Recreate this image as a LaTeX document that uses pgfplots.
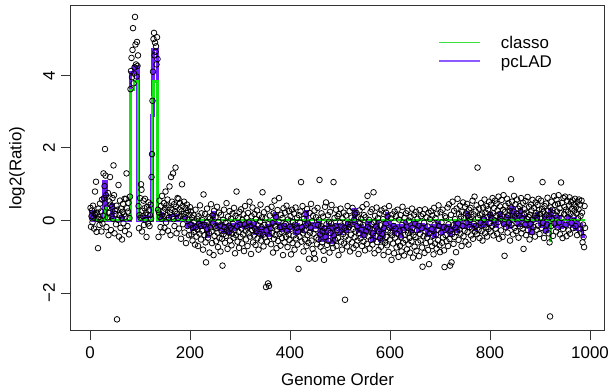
\documentclass[12pt,border=0pt]{standalone}
\usepackage{fontspec}
\setmainfont{Liberation Sans}
\usepackage{pgfplots}
\usepackage{pgfplotstable}
\pgfplotsset{compat=1.18}
\definecolor{classogreen}{RGB}{20,230,20}
\definecolor{pcladpurple}{RGB}{110,30,250}
\definecolor{legendgreen}{RGB}{60,225,60}
\definecolor{legendpurple}{RGB}{140,90,255}

% log2 ratios, one per clone, in genome order (1..990)
\pgfplotstableread[row sep=\\, header=false]{
0.35\\ -0.17\\ 0.12\\ 0.28\\ -0.05\\ 0.41\\ 0.08\\ -0.22\\ 0.19\\ 0.80\\
0.15\\ 1.07\\ -0.31\\ 0.22\\ 0.05\\ -0.76\\ 0.33\\ 0.10\\ -0.12\\ 0.47\\
0.02\\ 0.25\\ -0.30\\ 0.58\\ -0.08\\ 0.14\\ 1.30\\ 0.62\\ 0.95\\ 1.97\\
1.24\\ 0.70\\ -0.18\\ 0.36\\ 0.09\\ 0.76\\ -0.40\\ 0.21\\ 0.53\\ 1.20\\
0.44\\ -0.26\\ 0.12\\ 0.38\\ 0.62\\ 0.05\\ 1.52\\ 0.70\\ -0.35\\ 0.27\\
0.18\\ -0.10\\ 0.41\\ -2.72\\ 0.30\\ 0.02\\ 0.98\\ -0.44\\ 0.15\\ 0.55\\
-0.20\\ 0.33\\ 0.08\\ -0.52\\ 0.24\\ 0.46\\ -0.07\\ 0.17\\ 0.60\\ -0.29\\
0.11\\ 0.60\\ 1.30\\ 0.34\\ -0.15\\ 0.25\\ 0.49\\ -0.38\\ 0.07\\ 0.66\\
3.62\\ 4.12\\ 4.48\\ 3.95\\ 4.70\\ 5.30\\ 3.78\\ 4.05\\ 4.22\\ 5.61\\
4.85\\ 4.30\\ 3.97\\ 4.92\\ 4.26\\ 4.55\\
0.40\\ -0.21\\ 0.15\\ 0.62\\ 0.08\\ 1.00\\ 0.85\\ -0.30\\ 0.27\\ 0.12\\
0.55\\ -0.12\\ 0.34\\ 0.60\\ 0.02\\ 0.21\\ -0.45\\ 0.38\\ 0.16\\ -0.08\\
0.50\\ 0.29\\ -0.15\\ 0.15\\ 0.44\\ 0.05\\ 1.20\\
1.83\\ 3.30\\ 4.10\\ 5.00\\ 5.17\\ 4.55\\ 4.90\\ 4.65\\ 4.80\\ 4.30\\ 5.05\\ 4.45\\
0.30\\ -0.45\\ 0.22\\ 0.55\\ 0.10\\ -0.18\\ 0.40\\ 0.05\\ 0.68\\ -0.32\\
0.25\\ 0.12\\ 0.48\\ -0.20\\ 0.33\\ 0.80\\ -0.05\\ 0.42\\ 0.15\\ 0.58\\
-0.28\\ 0.36\\ 0.08\\ 0.94\\ 0.22\\ -0.40\\ 1.20\\ 0.30\\ 0.52\\ 0.11\\
1.30\\ 0.04\\ 0.45\\ -0.15\\ 0.26\\ 1.46\\ 0.38\\ -0.35\\ 0.19\\ 0.62\\
0.07\\ 0.60\\ -0.22\\ 0.31\\ 0.48\\ 0.13\\ -0.50\\ 0.25\\ 1.00\\ 0.40\\
-0.10\\ 0.18\\ 0.52\\ -0.33\\ 0.09\\ 0.35\\ -0.62\\ 0.21\\ 0.44\\ -0.15\\ 0.28\\ 0.03\\ -0.40\\ 0.16\\ 0.37\\
-0.12\\ 0.25\\ -0.38\\ 0.08\\ -0.55\\ -0.20\\ 0.15\\ -0.31\\ -0.02\\ -0.66\\
0.30\\ -0.18\\ -0.44\\ 0.05\\ -0.25\\ -0.70\\ 0.12\\ -0.09\\ -0.36\\ 0.42\\
-0.15\\ -0.52\\ 0.20\\ -0.28\\ 0.01\\ -0.80\\ 0.72\\ -0.11\\ -0.40\\ 0.18\\
-0.60\\ -1.15\\ -0.05\\ 0.33\\ -0.24\\ -0.47\\ 0.10\\ -0.35\\ -0.88\\ 0.06\\
-0.19\\ 0.45\\ -0.30\\ -0.62\\ 0.14\\ -0.08\\ -0.95\\ 0.27\\ -0.42\\ -0.16\\
0.09\\ -0.57\\ -0.21\\ 0.38\\ -0.33\\ -0.73\\ -0.04\\ 0.22\\ -0.48\\ -0.13\\
-0.85\\ 0.16\\ -0.29\\ -0.50\\ -1.24\\ 0.02\\ -0.37\\ 0.30\\ -0.18\\ -0.61\\
-0.06\\ -0.42\\ 0.48\\ -0.25\\ -0.78\\ 0.11\\ -0.33\\ -0.14\\ 0.26\\ -0.55\\
-0.20\\ 0.05\\ -0.68\\ -0.36\\ 0.19\\ -0.09\\ -0.47\\ 0.35\\ -0.27\\ -0.90\\
0.13\\ -0.40\\ 0.80\\ -0.16\\ -0.58\\ 0.07\\ -0.31\\ -0.75\\ 0.24\\ -0.12\\
-0.45\\ 0.31\\ -0.22\\ -0.63\\ 0.02\\ -0.38\\ 0.17\\ -0.84\\ -0.10\\ 0.40\\
-0.28\\ -0.52\\ 0.08\\ -0.19\\ -0.70\\ 0.21\\ -0.35\\ -0.05\\ 0.52\\ -0.44\\
-0.15\\ -0.92\\ 0.12\\ -0.26\\ 0.36\\ -0.60\\ -0.08\\ -0.41\\ 0.18\\ -0.22\\
-0.67\\ 0.04\\ -0.30\\ 0.28\\ -0.49\\ -0.13\\ -0.80\\ 0.15\\ -0.36\\ -0.02\\
0.44\\ -0.55\\ -0.18\\ 0.09\\ 0.78\\ -0.39\\ -0.71\\ 0.23\\ -0.12\\ -0.46\\
0.06\\ -1.83\\ -0.27\\ -0.58\\ 0.32\\ -1.73\\ -0.10\\ -1.80\\ -0.43\\ 0.14\\
-0.21\\ -0.65\\ 0.38\\ -0.34\\ -0.07\\ -0.88\\ 0.20\\ -0.50\\ 0.55\\ -0.16\\
-0.40\\ 0.10\\ -0.76\\ -0.24\\ 0.29\\ -0.56\\ -0.03\\ 0.62\\ -0.37\\ -0.19\\
-0.69\\ 0.16\\ -0.31\\ -0.48\\ 0.07\\ -0.95\\ 0.34\\ -0.14\\ -0.60\\ 0.22\\
-0.09\\ -0.45\\ 0.41\\ -0.29\\ -0.73\\ 0.03\\ -0.38\\ 0.26\\ -0.53\\ -0.17\\
0.12\\ -0.93\\ -0.22\\ 0.30\\ -0.62\\ -0.04\\ -0.41\\ 0.19\\ -0.80\\ -0.11\\
0.36\\ -0.49\\ -0.20\\ 0.08\\ -0.66\\ -0.30\\ -1.33\\ 0.15\\ -0.44\\ -0.06\\
0.25\\ 1.06\\ -0.58\\ -0.18\\ 0.40\\ -0.35\\ -0.85\\ 0.05\\ -0.27\\ -0.52\\
0.17\\ -0.13\\ -0.70\\ 0.32\\ -0.40\\ -0.08\\ -0.61\\ -1.05\\ 0.21\\ -0.33\\
-0.19\\ 0.46\\ -0.55\\ -0.02\\ -0.78\\ 0.13\\ -0.36\\ -0.90\\ 0.28\\ -1.05\\
-0.24\\ 0.09\\ -0.47\\ -0.65\\ 0.35\\ -0.12\\ -0.52\\ 0.02\\ 1.12\\ -0.38\\
-0.72\\ -0.15\\ 0.20\\ -0.60\\ -0.30\\ 0.11\\ -0.83\\ -1.08\\ -0.21\\ 0.38\\
-0.45\\ 0.50\\ -0.10\\ -0.67\\ -0.28\\ 0.15\\ -0.56\\ -0.03\\ -0.88\\ 0.24\\
-0.34\\ -0.08\\ 0.43\\ -0.62\\ -0.19\\ -0.75\\ 1.06\\ -0.41\\ 0.07\\ -0.53\\
-0.16\\ 0.30\\ -0.70\\ -0.26\\ 0.12\\ -0.48\\ -0.95\\ 0.18\\ -0.32\\ -0.05\\
0.33\\ -0.58\\ -0.14\\ -0.80\\ 0.06\\ -0.37\\ 0.22\\ -0.63\\ -0.20\\ -2.18\\
-0.44\\ 0.14\\ -0.27\\ -0.71\\ 0.40\\ -0.09\\ -0.52\\ -0.18\\ 0.26\\ -0.85\\
-0.11\\ -0.39\\ 0.08\\ -0.60\\ 0.35\\ -0.23\\ -0.76\\ 0.02\\ -0.46\\ 0.17\\
-0.30\\ -0.68\\ 0.21\\ -0.15\\ -0.55\\ 0.10\\ -0.92\\ -0.34\\ 0.28\\ -0.07\\
-0.49\\ 0.05\\ -0.25\\ -0.70\\ 0.37\\ -0.12\\ -0.58\\ 0.15\\ -0.40\\ -0.82\\
0.09\\ -0.29\\ 0.45\\ -0.64\\ 0.68\\ -0.18\\ -0.44\\ 0.02\\ -0.77\\ -0.21\\
0.24\\ -0.53\\ -0.10\\ 0.31\\ -0.66\\ -0.35\\ 0.78\\ -0.05\\ -0.90\\ 0.13\\
-0.42\\ -0.16\\ 0.36\\ -0.59\\ -0.24\\ 0.07\\ -0.81\\ -0.30\\ 0.19\\ -0.48\\
-0.13\\ -0.72\\ 0.28\\ -0.37\\ -0.55\\ 0.04\\ -0.95\\ -0.20\\ 0.33\\ -0.61\\
-0.08\\ 0.22\\ -0.45\\ -0.68\\ 0.11\\ -0.27\\ -0.86\\ 0.40\\ -0.19\\ -0.52\\
-0.33\\ 0.06\\ -1.08\\ -0.41\\ 0.17\\ -0.63\\ -0.15\\ -0.90\\ 0.25\\ -0.47\\
-0.22\\ 0.12\\ -0.74\\ -0.36\\ 0.30\\ -0.58\\ -1.00\\ 0.03\\ -0.28\\ -0.69\\
0.15\\ -0.44\\ -0.85\\ -0.12\\ 0.38\\ -0.61\\ -0.25\\ -0.96\\ 0.08\\ -0.39\\
-0.53\\ 0.20\\ -0.17\\ -0.79\\ 0.27\\ -0.34\\ -0.66\\ 0.00\\ -0.48\\ -0.88\\
0.10\\ -0.31\\ -0.57\\ 0.33\\ -0.20\\ -1.02\\ -0.40\\ 0.16\\ -0.72\\ -0.09\\
-0.45\\ 0.24\\ -0.83\\ -0.27\\ 0.05\\ -0.60\\ -0.14\\ -0.98\\ 0.29\\ -0.37\\
-0.55\\ 0.12\\ -0.21\\ -0.74\\ -1.27\\ 0.18\\ -0.43\\ -0.06\\ -0.89\\ 0.31\\
-0.30\\ -0.62\\ 0.09\\ -0.47\\ -0.16\\ -0.81\\ 0.22\\ -1.20\\ -0.35\\ 0.04\\
-0.58\\ 0.26\\ -0.24\\ -0.70\\ 0.14\\ -0.42\\ -0.93\\ 0.35\\ -0.11\\ -0.63\\
0.07\\ -0.38\\ -0.77\\ 0.19\\ -0.26\\ -0.54\\ 0.42\\ -0.15\\ -0.68\\ -0.87\\
0.23\\ -0.33\\ -0.05\\ -0.61\\ 0.30\\ -0.46\\ -0.18\\ -0.82\\ -1.28\\ 0.12\\
-0.40\\ 0.08\\ -0.57\\ -0.22\\ 0.36\\ -0.70\\ -0.10\\ 0.45\\ -0.51\\ -1.24\\
-0.28\\ 0.16\\ -1.15\\ -0.37\\ 0.52\\ -0.13\\ -0.64\\ 0.27\\ -0.45\\ 0.04\\
-0.19\\ -0.87\\ 0.33\\ -0.31\\ 0.60\\ -0.08\\ -0.53\\ 0.18\\ -0.25\\ 0.41\\
-0.36\\ 0.11\\ -0.70\\ 0.24\\ -0.15\\ 0.50\\ -0.43\\ 0.06\\ -0.28\\ 0.38\\
-0.58\\ 0.20\\ -0.05\\ 0.46\\ -0.32\\ 0.13\\ -0.66\\ 0.30\\ -0.18\\ 0.02\\
0.35\\ -0.41\\ 0.10\\ -0.22\\ 0.55\\ -0.50\\ 0.17\\ -0.09\\ 0.66\\ -0.30\\
0.25\\ -0.14\\ 0.42\\ -0.37\\ 1.46\\ 0.07\\ -0.26\\ 0.33\\ -0.48\\ 0.15\\
-0.06\\ 0.48\\ -0.29\\ 0.19\\ -0.55\\ 0.36\\ -0.12\\ 0.04\\ 0.58\\ -0.35\\
0.22\\ -0.18\\ 0.40\\ -0.44\\ 0.10\\ 0.31\\ -0.23\\ 0.52\\ -0.07\\ 0.16\\
-0.30\\ 0.44\\ 0.08\\ -0.15\\ 0.62\\ 0.20\\ -0.41\\ 0.35\\ 0.01\\ 0.55\\
-0.22\\ 0.13\\ 0.47\\ -0.36\\ 0.28\\ -0.04\\ 0.66\\ -0.50\\ 0.18\\ 0.39\\
0.05\\ -0.27\\ 0.57\\ 0.12\\ -0.45\\ 0.30\\ 0.70\\ -0.10\\ -0.97\\ 0.24\\
0.41\\ -0.18\\ 0.09\\ 0.60\\ -0.33\\ 0.15\\ 0.48\\ -0.06\\ 0.27\\ -0.55\\
0.36\\ 1.14\\ -0.12\\ 0.52\\ 0.03\\ -0.38\\ 0.25\\ 0.68\\ -0.20\\ 0.11\\
0.45\\ -0.29\\ 0.19\\ 0.58\\ -0.08\\ 0.33\\ -0.47\\ 0.14\\ 0.40\\ -0.16\\
0.26\\ 0.62\\ -0.35\\ 0.07\\ -0.22\\ 0.49\\ -0.78\\ 0.17\\ 0.31\\ -0.11\\
0.54\\ -0.40\\ 0.22\\ 0.04\\ 0.65\\ -0.26\\ 0.10\\ 0.38\\ -0.52\\ 0.16\\
-0.09\\ 0.44\\ 0.28\\ -0.32\\ 0.57\\ 0.02\\ -0.18\\ 0.35\\ 0.13\\ -0.44\\
0.50\\ 0.21\\ -0.25\\ 0.06\\ 0.43\\ -0.14\\ 0.60\\ 0.29\\ -0.37\\ 0.18\\
0.08\\ 0.55\\ -0.20\\ 0.32\\ 1.06\\ -0.06\\ 0.24\\ -0.48\\ 0.40\\ 0.11\\
-0.28\\ 0.47\\ 0.16\\ -0.11\\ 0.63\\ 0.27\\ -0.35\\ 0.09\\ -0.60\\ -2.64\\
0.36\\ -0.15\\ 0.52\\ 0.05\\ 0.30\\ -0.42\\ 0.20\\ 0.67\\ -0.08\\ 0.43\\
0.14\\ -0.30\\ 0.58\\ 0.25\\ -0.19\\ 0.46\\ 0.70\\ -0.05\\ 0.34\\ -0.38\\
0.21\\ 1.05\\ 0.07\\ 0.49\\ -0.48\\ -0.23\\ 0.62\\ 0.17\\ 0.38\\ 0.66\\
-0.12\\ 0.30\\ -0.43\\ 0.55\\ 0.09\\ 0.24\\ -0.27\\ 0.41\\ 0.64\\ -0.36\\
0.18\\ 0.50\\ -0.06\\ 0.33\\ 0.56\\ -0.21\\ 0.12\\ 0.45\\ 0.28\\ 0.60\\
-0.15\\ 0.37\\ 0.20\\ -0.40\\ 0.52\\ 0.06\\ 0.31\\ 0.58\\ -0.24\\ 0.44\\
0.13\\ -0.33\\ 0.55\\ 0.22\\ -0.60\\ -0.11\\ -0.45\\ -0.73\\ 0.40\\ -0.20\\
}\ratios

\begin{document}
\begin{tikzpicture}
\begin{axis}[
  scale only axis,
  width=378.5pt, height=230.5pt,
  xmin=-38.6, xmax=1028.6,
  ymin=-3.03, ymax=5.92,
  xtick={0,200,400,600,800,1000},
  ytick={-2,0,2,4},
  yticklabels={−2,0,2,4},
  tick pos=left,
  tick align=outside,
  major tick length=7pt,
  every tick/.style={black!80, line width=0.7pt},
  axis line style={black!80, line width=0.7pt},
  /pgf/number format/assume math mode=true,
  /pgf/number format/1000 sep={},
  yticklabel style={rotate=90, anchor=south},
  xlabel={Genome Order},
  ylabel={log2(Ratio)},
  xlabel style={at={(axis description cs:0.5,-0.1488)}, anchor=center},
  ylabel style={at={(axis description cs:-0.1007,0.5)}, anchor=center},
  legend style={draw=none, fill=none, inner sep=0pt,
    at={(axis description cs:0.689,0.908)}, anchor=north west,
    row sep=4.5pt, column sep=14.2pt,
    nodes={inner sep=0pt, text height=9pt, text depth=0pt, anchor=west}},
]
\addplot[only marks, mark=o, mark size=2pt, mark options={line width=0.55pt, black}, forget plot]
  table[x expr=\coordindex+1, y index=0] {\ratios};

\addplot[const plot, pcladpurple, line width=2.2pt, forget plot] coordinates {
(1,0)(2,0.25)(9,0)(28,1.07)(32,0)(43,0.43)(47,0)(62,0.08)(66,0)(81,4.07)(88,4.24)(96,0)(108,0.1)(114,0)
(124,2.9)(126,4.7)(135,0)(140,0.2)(145,0)(160,0.15)(174,0)(186,0.08)(190,0)(195,-0.15)(198,-0.05)
(201,-0.08)(204,-0.25)(208,-0.1)(214,-0.18)(218,-0.05)(222,-0.2)(226,-0.08)(233,-0.45)(237,-0.15)
(241,-0.05)(246,0.23)(249,-0.08)(253,-0.2)(256,-0.1)(260,-0.25)(263,-0.1)(266,-0.3)(270,-0.15)
(276,-0.35)(280,-0.12)(284,-0.25)(288,-0.1)(292,-0.2)(296,-0.05)(300,-0.15)(305,-0.08)(308,-0.2)
(312,-0.1)(316,-0.03)(320,-0.15)(324,-0.08)(330,-0.35)(334,-0.2)(338,-0.3)(341,-0.45)(345,-0.2)
(350,-0.35)(353,-0.15)(356,-0.4)(360,-0.15)(364,-0.05)(370,0.2)(373,-0.08)(378,-0.2)(382,-0.28)
(386,-0.12)(390,-0.22)(394,-0.3)(399,-0.12)(404,-0.22)(407,-0.1)(410,-0.35)(414,-0.1)(417,-0.2)
(420,-0.3)(426,-0.15)(431,0.25)(434,-0.05)(437,-0.15)(440,-0.25)(444,-0.08)(448,-0.2)(452,-0.12)
(456,-0.05)(460,-0.55)(464,-0.2)(466,-0.35)(470,-0.55)(475,-0.1)(480,-0.2)(484,-0.6)(488,-0.25)
(491,-0.12)(495,-0.2)(500,-0.35)(503,-0.15)(506,-0.25)(510,-0.3)(514,-0.05)(517,-0.15)(520,-0.08)
(527,0.3)(530,-0.05)(533,-0.2)(536,-0.3)(540,-0.15)(544,-0.45)(548,-0.2)(551,-0.3)(554,-0.05)
(558,-0.2)(561,-0.35)(564,-0.55)(568,-0.3)(571,-0.12)(574,-0.05)(577,-0.25)(580,-0.55)(584,-0.45)
(588,-0.15)(590,-0.05)(593,0.2)(597,-0.05)(600,-0.15)(602,-0.25)(605,-0.1)(608,-0.35)(611,-0.2)
(614,-0.15)(617,-0.3)(620,-0.45)(623,-0.15)(626,-0.25)(630,-0.05)(633,-0.2)(635,-0.12)(640,-0.3)
(643,-0.12)(646,-0.05)(650,-0.15)(655,-0.3)(658,-0.12)(660,-0.2)(664,-0.1)(666,-0.25)(670,-0.15)
(673,-0.4)(677,-0.22)(680,-0.3)(684,-0.15)(687,-0.45)(690,-0.2)(693,-0.05)(698,-0.18)(703,-0.35)
(706,-0.15)(708,-0.25)(712,-0.3)(716,-0.15)(720,-0.4)(723,-0.2)(726,-0.28)(730,-0.05)(734,-0.3)
(737,-0.12)(740,-0.05)(743,-0.15)(746,-0.1)(750,-0.2)(753,0.22)(756,-0.05)(760,-0.15)(764,-0.1)
(767,-0.2)(770,-0.25)(773,-0.1)(776,-0.15)(780,0)(784,-0.12)(787,0.05)(790,-0.1)(795,0)(800,0.2)
(803,0)(806,-0.1)(810,-0.15)(814,0)(817,0.12)(820,0.2)(823,0)(826,-0.1)(830,-0.12)(833,0.1)
(836,-0.2)(840,0)(842,0.37)(847,0.2)(850,0.1)(853,0)(856,-0.12)(860,0.3)(863,0)(866,0.1)
(870,-0.15)(874,0)(877,-0.2)(880,-0.35)(884,0)(888,0.12)(893,0.2)(896,0)(900,-0.1)(903,-0.15)
(907,0.1)(910,-0.3)(914,0)(917,-0.1)(920,0.3)(923,0)(926,0.12)(930,-0.15)(934,0)(937,0.1)
(940,-0.2)(944,0)(947,-0.1)(950,-0.12)(955,0.1)(958,0)(961,-0.1)(964,-0.15)(967,0.05)(970,-0.25)
(974,0)(977,-0.15)(980,-0.1)(983,-0.25)(985,-0.45)(990,-0.45)
};

\addplot[const plot, classogreen, line width=1.5pt, forget plot] coordinates {
(1,0.01)(28,0.35)(32,0.01)(81,3.6)(88,3.83)(96,0.01)(124,3.4)(127,3.83)(135,0.01)
(920,-0.55)(922,0.01)(990,0.01)
};

\addlegendimage{legend image code/.code={\draw[legendgreen, line width=0.8pt] (0pt,0pt) -- (29pt,0pt);}}
\addlegendentry{classo}
\addlegendimage{legend image code/.code={\draw[legendpurple, line width=1pt] (0pt,0pt) -- (29pt,0pt);}}
\addlegendentry{pcLAD}
\end{axis}
\pgfresetboundingbox
\path[use as bounding box] (-50.15pt,-41.4pt) rectangle (381.8pt,234.5pt);
\end{tikzpicture}
\end{document}
